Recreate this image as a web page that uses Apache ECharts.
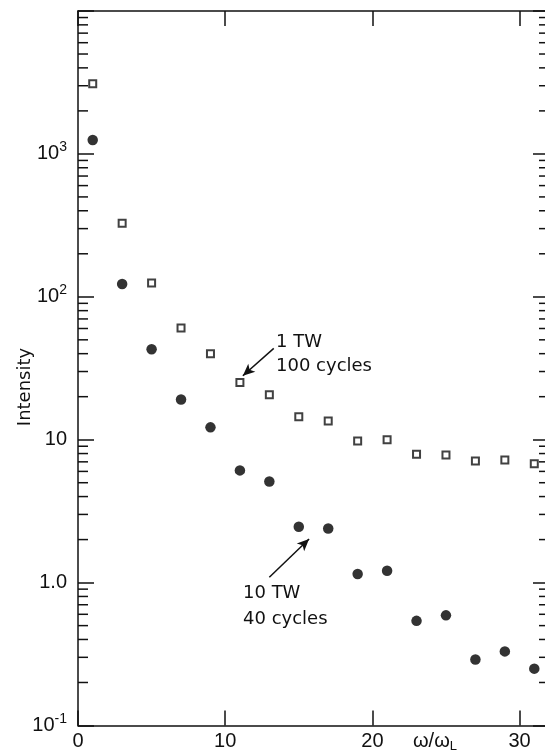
<!DOCTYPE html>
<html>
<head>
<meta charset="utf-8">
<script src="https://cdn.jsdelivr.net/npm/echarts@6/dist/echarts.min.js"></script>
<style>
  html, body { margin: 0; padding: 0; background: #fff; }
  #chart { width: 545px; height: 754px; }
</style>
</head>
<body>
<div id="chart"></div>
<script>
// harmonic order (odd harmonics only)
const harmonics = [1, 3, 5, 7, 9, 11, 13, 15, 17, 19, 21, 23, 25, 27, 29, 31]
// 1 TW, 100 cycles  (open squares)
const intensity1TW = [3100, 327, 125, 60.4, 39.9, 25.1, 20.6, 14.5, 13.5, 9.8, 10.0, 7.9, 7.8, 7.1, 7.2, 6.8]
// 10 TW, 40 cycles  (filled circles)
const intensity10TW = [1250, 123, 43, 19.1, 12.2, 6.1, 5.1, 2.46, 2.39, 1.15, 1.21, 0.54, 0.59, 0.29, 0.33, 0.25]
// x tick labels
const xTicks = [0, 10, 20, 30]
// y decade labels (log10 -> rich text)
const yTickLabels = {
  '-1': '{b|10}{s|-1}',
  '0': '{b|1.0}',
  '1': '{b|10}',
  '2': '{b|10}{s|2}',
  '3': '{b|10}{s|3}',
  '4': ''
}
// minor ticks of the log axis (2..9 in each decade)
const minorTicks = [
  0.2, 0.3, 0.4, 0.5, 0.6, 0.7, 0.8, 0.9,
  2, 3, 4, 5, 6, 7, 8, 9,
  20, 30, 40, 50, 60, 70, 80, 90,
  200, 300, 400, 500, 600, 700, 800, 900,
  2000, 3000, 4000, 5000, 6000, 7000, 8000, 9000
]

const FONT = '"Liberation Sans", Arial, sans-serif'
const AFONT = '"DejaVu Sans", sans-serif'
const black = '#111'

const pair = (xs, ys) => xs.map((x, i) => [x, ys[i]])

const chart = echarts.init(document.getElementById('chart'), null, { renderer: 'canvas' })

const xCommon = {
  type: 'value',
  min: 0,
  max: 32,
  interval: 10,
  splitLine: { show: false },
  axisLine: { onZero: false, lineStyle: { color: black, width: 1.5 } },
  axisTick: { inside: true, length: 15, lineStyle: { color: black, width: 1.5 } }
}
const yCommon = {
  type: 'log',
  logBase: 10,
  min: 0.1,
  max: 10000,
  splitNumber: 5,
  splitLine: { show: false },
  axisLine: { onZero: false, lineStyle: { color: black, width: 1.5 } },
  axisTick: { inside: true, length: 16, lineStyle: { color: black, width: 1.5 } }
}

chart.setOption({
  animation: false,
  backgroundColor: '#fff',
  grid: { left: 78, top: 11, width: 471, height: 714.5, outerBoundsMode: 'none' },
  xAxis: [
    Object.assign({}, xCommon, {
      position: 'bottom',
      axisLabel: {
        margin: 6,
        color: black,
        fontFamily: FONT,
        fontSize: 20,
        showMaxLabel: false,
        formatter: v => (xTicks.indexOf(v) >= 0 ? String(v) : '')
      }
    }),
    Object.assign({}, xCommon, { position: 'top', axisLabel: { show: false } })
  ],
  yAxis: [
    Object.assign({}, yCommon, {
      position: 'left',
      axisLabel: {
        margin: 11,
        color: black,
        formatter: v => {
          const k = String(Math.round(Math.log10(v)))
          return yTickLabels[k] !== undefined ? yTickLabels[k] : ''
        },
        rich: {
          b: { fontFamily: FONT, fontSize: 20, color: black },
          s: { fontFamily: FONT, fontSize: 14, color: black, padding: [0, 0, 13, 0] }
        }
      }
    }),
    Object.assign({}, yCommon, { position: 'right', axisLabel: { show: false } })
  ],
  graphic: [
    { type: 'text', x: 25, y: 387, rotation: Math.PI / 2,
      style: { text: 'Intensity', font: '18px ' + AFONT, fill: black, align: 'center', verticalAlign: 'middle' } },
    { type: 'text', x: 276, y: 342,
      style: { text: '1 TW', font: '18px ' + AFONT, fill: black, align: 'left', verticalAlign: 'middle' } },
    { type: 'text', x: 276, y: 366,
      style: { text: '100 cycles', font: '18px ' + AFONT, fill: black, align: 'left', verticalAlign: 'middle' } },
    { type: 'text', x: 243, y: 593,
      style: { text: '10 TW', font: '18px ' + AFONT, fill: black, align: 'left', verticalAlign: 'middle' } },
    { type: 'text', x: 243, y: 619,
      style: { text: '40 cycles', font: '18px ' + AFONT, fill: black, align: 'left', verticalAlign: 'middle' } },
    { type: 'text', x: 413, y: 741,
      style: {
        text: '{a|ω/ω}{b|L}',
        verticalAlign: 'middle',
        rich: {
          a: { fontFamily: FONT, fontSize: 20, fill: black },
          b: { fontFamily: FONT, fontSize: 13, fill: black, padding: [10, 0, 0, 0] }
        }
      } }
  ],
  series: [
    {
      name: '1 TW',
      type: 'scatter',
      data: pair(harmonics, intensity1TW),
      symbol: 'rect',
      symbolSize: 7,
      itemStyle: { color: '#fff', borderColor: black, borderWidth: 2 },
      markLine: {
        silent: true,
        symbol: ['none', 'arrow'],
        symbolSize: [8, 12],
        label: { show: false },
        lineStyle: { color: black, width: 1.5, type: 'solid' },
        data: [[{ coord: [13.3, 43.6] }, { coord: [11.2, 28] }]]
      }
    },
    {
      name: '10 TW',
      type: 'scatter',
      data: pair(harmonics, intensity10TW),
      symbol: 'circle',
      symbolSize: 10.5,
      itemStyle: { color: '#000' },
      markLine: {
        silent: true,
        symbol: ['none', 'arrow'],
        symbolSize: [8, 12],
        label: { show: false },
        lineStyle: { color: black, width: 1.5, type: 'solid' },
        data: [[{ coord: [13.0, 1.09] }, { coord: [15.7, 2.02] }]]
      }
    },
    {
      // minor ticks on both log axes
      type: 'custom',
      silent: true,
      data: minorTicks.map(v => [0, v]),
      renderItem: (params, api) => {
        const cs = params.coordSys
        const y = api.coord([0, api.value(1)])[1]
        const st = { stroke: black, lineWidth: 1.5 }
        return {
          type: 'group',
          children: [
            { type: 'line', shape: { x1: cs.x, y1: y, x2: cs.x + 10, y2: y }, style: st },
            { type: 'line', shape: { x1: cs.x + cs.width - 10, y1: y, x2: cs.x + cs.width, y2: y }, style: st }
          ]
        }
      }
    }
  ]
})
</script>
</body>
</html>
